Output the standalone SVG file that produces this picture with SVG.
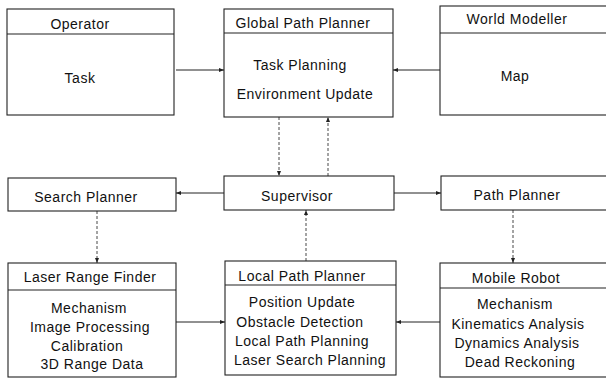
<svg xmlns="http://www.w3.org/2000/svg" width="606" height="380" viewBox="0 0 606 380">
<defs>
<style>
.box{fill:#fff;stroke:#222;stroke-width:1.1}
.div{stroke:#222;stroke-width:1.1}
.t{font-family:"Liberation Sans",Arial,sans-serif;font-size:14px;fill:#111;text-anchor:middle;letter-spacing:0.5px}
.c{fill:none;stroke:#222;stroke-width:1}
.d{fill:none;stroke:#333;stroke-width:0.9;stroke-dasharray:3 2}
</style>
<marker id="ah" viewBox="0 0 10 10" refX="10" refY="5" markerWidth="5" markerHeight="5" orient="auto" markerUnits="userSpaceOnUse">
<path d="M0,1 L10,5 L0,9 Z" fill="#222"/>
</marker>
</defs>
<rect width="606" height="380" fill="#fff"/>
<g id="connectors">
<line class="c" x1="176" y1="70" x2="224" y2="70" marker-end="url(#ah)"/>
<line class="c" x1="440" y1="70" x2="393" y2="70" marker-end="url(#ah)"/>
<line class="d" x1="279" y1="117" x2="279" y2="176" marker-end="url(#ah)"/>
<line class="d" x1="328" y1="176" x2="328" y2="117" marker-end="url(#ah)"/>
<line class="c" x1="224" y1="193" x2="176" y2="193" marker-end="url(#ah)"/>
<line class="c" x1="394" y1="193" x2="441" y2="193" marker-end="url(#ah)"/>
<line class="d" x1="306" y1="261" x2="306" y2="210" marker-end="url(#ah)"/>
<line class="d" x1="97" y1="211" x2="97" y2="263" marker-end="url(#ah)"/>
<line class="d" x1="513" y1="210" x2="513" y2="263" marker-end="url(#ah)"/>
<line class="c" x1="176" y1="322" x2="225" y2="322" marker-end="url(#ah)"/>
<line class="c" x1="440" y1="322" x2="396" y2="322" marker-end="url(#ah)"/>
</g>
<g id="operator">
<rect class="box" x="7" y="9" width="167" height="106"/>
<line class="div" x1="7" y1="34" x2="174" y2="34"/>
<text class="t" x="80" y="29">Operator</text>
<text class="t" x="80" y="83">Task</text>
</g>
<g id="global-path-planner">
<rect class="box" x="224" y="9" width="169" height="108"/>
<line class="div" x1="224" y1="33" x2="393" y2="33"/>
<text class="t" x="303" y="28">Global Path Planner</text>
<text class="t" x="300" y="70">Task Planning</text>
<text class="t" x="305" y="99">Environment Update</text>
</g>
<g id="world-modeller">
<rect class="box" x="440" y="6" width="175" height="109"/>
<line class="div" x1="440" y1="33" x2="615" y2="33"/>
<text class="t" x="517" y="24">World Modeller</text>
<text class="t" x="515" y="81">Map</text>
</g>
<g id="search-planner">
<rect class="box" x="8" y="178" width="168" height="33"/>
<text class="t" x="86" y="202">Search Planner</text>
</g>
<g id="supervisor">
<rect class="box" x="224" y="176" width="170" height="34"/>
<text class="t" x="297" y="201">Supervisor</text>
</g>
<g id="path-planner">
<rect class="box" x="441" y="176" width="175" height="34"/>
<text class="t" x="517" y="200">Path Planner</text>
</g>
<g id="laser-range-finder">
<rect class="box" x="8" y="263" width="168" height="114"/>
<line class="div" x1="8" y1="290" x2="176" y2="290"/>
<text class="t" x="90" y="282">Laser Range Finder</text>
<text class="t" x="89" y="313">Mechanism</text>
<text class="t" x="90" y="332">Image Processing</text>
<text class="t" x="87" y="351">Calibration</text>
<text class="t" x="92" y="369">3D Range Data</text>
</g>
<g id="local-path-planner">
<rect class="box" x="225" y="261" width="171" height="114"/>
<line class="div" x1="225" y1="285" x2="396" y2="285"/>
<text class="t" x="302" y="281">Local Path Planner</text>
<text class="t" x="302" y="307">Position Update</text>
<text class="t" x="300" y="327">Obstacle Detection</text>
<text class="t" x="302" y="346">Local Path Planning</text>
<text class="t" x="310" y="365">Laser Search Planning</text>
</g>
<g id="mobile-robot">
<rect class="box" x="440" y="263" width="176" height="114"/>
<line class="div" x1="440" y1="288" x2="616" y2="288"/>
<text class="t" x="516" y="283">Mobile Robot</text>
<text class="t" x="515" y="309">Mechanism</text>
<text class="t" x="518" y="329">Kinematics Analysis</text>
<text class="t" x="517" y="348">Dynamics Analysis</text>
<text class="t" x="520" y="367">Dead Reckoning</text>
</g>
</svg>
